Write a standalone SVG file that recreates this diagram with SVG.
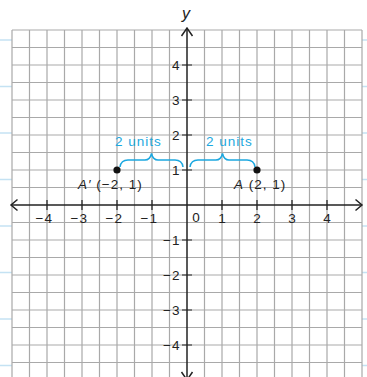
<svg xmlns="http://www.w3.org/2000/svg" width="367" height="377" viewBox="0 0 367 377">
<style>
.nb{stroke:#c4e2f3;stroke-width:1.3}
.g{stroke:#a9a9a9;stroke-width:1.2;fill:none}
.ax{stroke:#222;stroke-width:1.5;fill:none}
.tk{stroke:#222;stroke-width:1.2}
.t{font-family:"Liberation Sans",Arial,sans-serif;font-size:13.5px;fill:#222;letter-spacing:1px}
.c{fill:#1ca8e0}
.br{stroke:#1ca8e0;stroke-width:1.5;fill:none}
</style>
<rect width="367" height="377" fill="#fff"/>
<g id="notebook-lines">
<line class="nb" x1="0" y1="40" x2="367" y2="40"/>
<line class="nb" x1="0" y1="86.5" x2="367" y2="86.5"/>
<line class="nb" x1="0" y1="133" x2="367" y2="133"/>
<line class="nb" x1="0" y1="179.5" x2="367" y2="179.5"/>
<line class="nb" x1="0" y1="226" x2="367" y2="226"/>
<line class="nb" x1="0" y1="272.5" x2="367" y2="272.5"/>
<line class="nb" x1="0" y1="319" x2="367" y2="319"/>
<line class="nb" x1="0" y1="365.5" x2="367" y2="365.5"/>
</g>
<rect x="12" y="30" width="350" height="350" fill="#fff"/>
<g id="grid">
<path class="g" d="M12 30V377M29.5 30V377M47 30V377M64.5 30V377M82 30V377M99.5 30V377M117 30V377M134.5 30V377M152 30V377M169.5 30V377M204.5 30V377M222 30V377M239.5 30V377M257 30V377M274.5 30V377M292 30V377M309.5 30V377M327 30V377M344.5 30V377M362 30V377"/>
<path class="g" d="M12 30H362M12 47.5H362M12 65H362M12 82.5H362M12 100H362M12 117.5H362M12 135H362M12 152.5H362M12 170H362M12 187.5H362M12 222.5H362M12 240H362M12 257.5H362M12 275H362M12 292.5H362M12 310H362M12 327.5H362M12 345H362M12 362.5H362"/>
</g>
<g id="axes">
<line class="ax" x1="11" y1="205" x2="362" y2="205"/>
<line class="ax" x1="187" y1="28" x2="187" y2="380"/>
<path class="ax" d="M17.5 199.5L11 205L17.5 210.5M355.5 199.5L362 205L355.5 210.5M181.5 36L187 28L192.5 36M181.5 372L187 380L192.5 372"/>
<path class="tk" d="M47 200V210M82 200V210M117 200V210M152 200V210M222 200V210M257 200V210M292 200V210M327 200V210M182 65H192M182 100H192M182 135H192M182 170H192M182 240H192M182 275H192M182 310H192M182 345H192"/>
<text class="t" x="186" y="19" text-anchor="middle" style="font-size:16px;font-style:italic;letter-spacing:0">y</text>
<g class="t">
<text x="53" y="223" text-anchor="end">−4</text>
<text x="88" y="223" text-anchor="end">−3</text>
<text x="123" y="223" text-anchor="end">−2</text>
<text x="158" y="223" text-anchor="end">−1</text>
<text x="196.5" y="222" text-anchor="middle">0</text>
<text x="222.5" y="223" text-anchor="middle">1</text>
<text x="257.5" y="223" text-anchor="middle">2</text>
<text x="292.5" y="223" text-anchor="middle">3</text>
<text x="327.5" y="223" text-anchor="middle">4</text>
<text x="180.5" y="69.5" text-anchor="end">4</text>
<text x="180.5" y="104.5" text-anchor="end">3</text>
<text x="180.5" y="139.5" text-anchor="end">2</text>
<text x="180.5" y="174.5" text-anchor="end">1</text>
<text x="180.5" y="244.5" text-anchor="end">−1</text>
<text x="180.5" y="279.5" text-anchor="end">−2</text>
<text x="180.5" y="314.5" text-anchor="end">−3</text>
<text x="180.5" y="349.5" text-anchor="end">−4</text>
</g>
</g>
<g id="connectors">
<path class="br" d="M120 167Q121 160 128 160H145Q150 160 151.5 153.5Q153 160 158 160H175Q182 160 183 167"/>
<path class="br" d="M190 167Q191 160 198 160H216Q221 160 222.5 153.5Q224 160 229 160H247Q254 160 255 167"/>
<text class="t c" x="115" y="146">2 units</text>
<text class="t c" x="206" y="146">2 units</text>
</g>
<g id="point-A-prime">
<circle cx="117" cy="170" r="3.6" fill="#111"/>
<text class="t" x="78" y="189"><tspan font-style="italic">A′</tspan> (−2, 1)</text>
</g>
<g id="point-A">
<circle cx="257" cy="170" r="3.6" fill="#111"/>
<text class="t" x="234" y="189"><tspan font-style="italic">A</tspan> (2, 1)</text>
</g>
</svg>
